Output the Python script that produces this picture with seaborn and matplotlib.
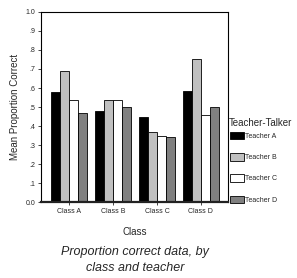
import pandas as pd
import matplotlib.pyplot as plt
import seaborn as sns

classes = ['Class A', 'Class B', 'Class C', 'Class D']
teachers = ['Teacher A', 'Teacher B', 'Teacher C', 'Teacher D']
teacher_a = [0.58, 0.48, 0.45, 0.585]
teacher_b = [0.69, 0.535, 0.37, 0.75]
teacher_c = [0.535, 0.535, 0.35, 0.46]
teacher_d = [0.47, 0.50, 0.34, 0.50]
colors = ['#000000', '#c0c0c0', '#ffffff', '#808080']
ytick_labels = ['0.0', '.1', '.2', '.3', '.4', '.5', '.6', '.7', '.8', '.9', '1.0']

rows = []
for t, vals in zip(teachers, [teacher_a, teacher_b, teacher_c, teacher_d]):
    for c, v in zip(classes, vals):
        rows.append({'Class': c, 'Teacher-Talker': t, 'value': v})
df = pd.DataFrame(rows)

sns.set_style("white")
plt.rcParams['font.family'] = ['Liberation Sans', 'DejaVu Sans']

fig = plt.figure(figsize=(2.97, 2.78), dpi=100)
ax = fig.add_axes([0.138, 0.273, 0.630, 0.684])

sns.barplot(data=df, x='Class', y='value', hue='Teacher-Talker',
            palette=colors, saturation=1, width=0.82,
            edgecolor='black', linewidth=0.6, ax=ax)

ax.set_ylim(0, 1.0)
ax.set_xlim(-0.64, 3.62)
ax.set_yticks([i / 10 for i in range(11)])
ax.set_yticklabels(ytick_labels, fontsize=5)
ax.tick_params(axis='x', labelsize=5, length=2, width=0.6, pad=2, bottom=True)
ax.tick_params(axis='y', length=2, width=0.6, pad=2, left=True)
ax.set_ylabel('Mean Proportion Correct', fontsize=7, labelpad=4)
ax.set_xlabel('Class', fontsize=7, labelpad=9)

for side in ['left', 'top', 'right']:
    ax.spines[side].set_linewidth(0.8)
    ax.spines[side].set_color('black')
ax.spines['bottom'].set_linewidth(1.6)
ax.spines['bottom'].set_color('#222222')

# legend entries, title drawn separately to keep it close to the first entry
leg = ax.legend(loc='upper left', bbox_to_anchor=(0.995, 0.385),
                frameon=False, fontsize=5, handlelength=2.0,
                handleheight=1.3, handletextpad=0.1, labelspacing=1.9,
                borderaxespad=0)
fig.text(0.772, 0.557, 'Teacher-Talker', fontsize=7, ha='left', va='center')

fig.text(0.455, 0.066, 'Proportion correct data, by\nclass and teacher',
         ha='center', va='center', fontsize=9, style='italic',
         linespacing=1.45)

fig.savefig('out.png', dpi=100)
